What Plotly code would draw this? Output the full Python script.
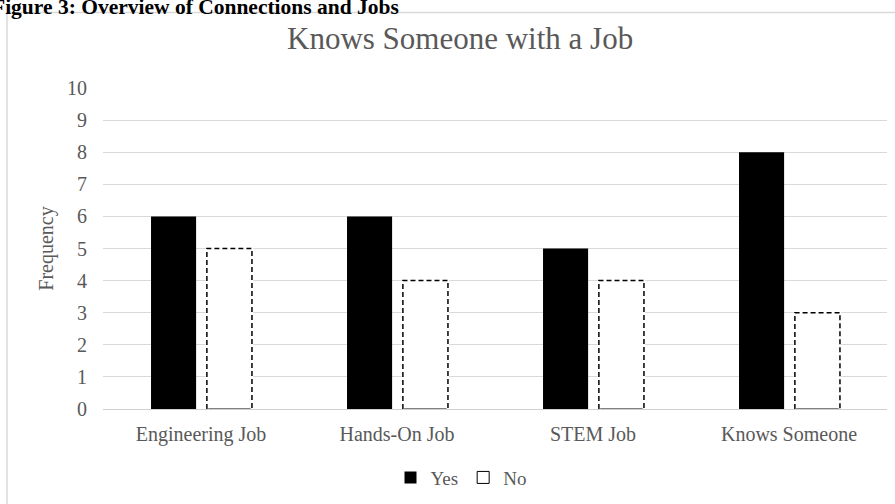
import plotly.graph_objects as go

# ---- data ----
categories = ["Engineering Job", "Hands-On Job", "STEM Job", "Knows Someone"]
yes_values = [6, 6, 5, 8]
no_values = [5, 4, 4, 3]
y_ticks = list(range(0, 11))

# ---- layout geometry (pixels) ----
W, H = 895, 504
L, R, T, B = 103, 8, 88, 93
PW, PH = W - L - R, H - T - B


def px2x(px):
    return (px - L) / PW


def py2y(py):
    return (H - B - py) / PH


BAR_W = 0.23
YES_OFF = -0.255
NO_OFF = 0.03
FONT = "Liberation Serif, Times New Roman, serif"
GRAY = "#595959"

idx = list(range(len(categories)))

fig = go.Figure()
fig.add_trace(go.Bar(
    x=idx, y=yes_values, name="Yes", width=BAR_W, offset=YES_OFF,
    marker=dict(color="black", line=dict(width=0)),
))
fig.add_trace(go.Bar(
    x=idx, y=no_values, name="No", width=BAR_W, offset=NO_OFF,
    marker=dict(color="white", line=dict(color="black", width=1)),
))

# dashed outlines for "No" bars, derived from the data
shapes = []
for i, v in zip(idx, no_values):
    x0, x1 = i + NO_OFF, i + NO_OFF + BAR_W
    path = f"M {x0},0 L {x0},{v} L {x1},{v} L {x1},0"
    shapes.append(dict(type="path", xref="x", yref="y", path=path,
                       line=dict(color="white", width=2.6)))
    shapes.append(dict(type="path", xref="x", yref="y", path=path,
                       line=dict(color="black", width=1.5, dash="5px,3px")))

# outer chart border (only top/left visible in the crop)
shapes.append(dict(type="rect", xref="paper", yref="paper",
                   x0=px2x(7), x1=px2x(W + 40), y0=py2y(12), y1=py2y(H + 40),
                   line=dict(color="#d9d9d9", width=1.5), layer="below"))

fig.update_layout(
    width=W, height=H,
    margin=dict(l=L, r=R, t=T, b=B),
    paper_bgcolor="white", plot_bgcolor="white",
    barmode="overlay",
    shapes=shapes,
    font=dict(family=FONT, color=GRAY, size=19),
    showlegend=True,
    legend=dict(orientation="h", x=px2x(461), y=py2y(480),
                xanchor="center", yanchor="middle",
                font=dict(family=FONT, size=19, color=GRAY),
                itemwidth=30, tracegroupgap=0, bgcolor="rgba(0,0,0,0)"),
    xaxis=dict(range=[-0.5, len(categories) - 0.5], tickvals=idx,
               ticktext=categories, showgrid=False, zeroline=False,
               showline=False, ticks="", ticklabelstandoff=11,
               tickfont=dict(family=FONT, size=20, color=GRAY),
               fixedrange=True),
    yaxis=dict(range=[0, 10], tickvals=y_ticks, showgrid=True,
               gridcolor="#d9d9d9", gridwidth=1, zeroline=True,
               zerolinecolor="#d0d0d0", zerolinewidth=1.2, showline=False,
               ticks="", ticklabelstandoff=15,
               tickfont=dict(family=FONT, size=20, color=GRAY),
               title=dict(text="Frequency", standoff=8,
                          font=dict(family=FONT, size=20, color=GRAY))),
    annotations=[
        dict(text="Knows Someone with a Job", xref="paper", yref="paper",
             x=px2x(460), y=py2y(38), xanchor="center", yanchor="middle",
             showarrow=False, font=dict(family=FONT, size=31, color=GRAY)),
        dict(text="<b>Figure 3: Overview of Connections and Jobs</b>",
             xref="paper", yref="paper", x=px2x(401), y=py2y(6),
             xanchor="right", yanchor="middle", showarrow=False,
             font=dict(family=FONT, size=21.5, color="black")),
    ],
)

fig.write_html("out.html")
